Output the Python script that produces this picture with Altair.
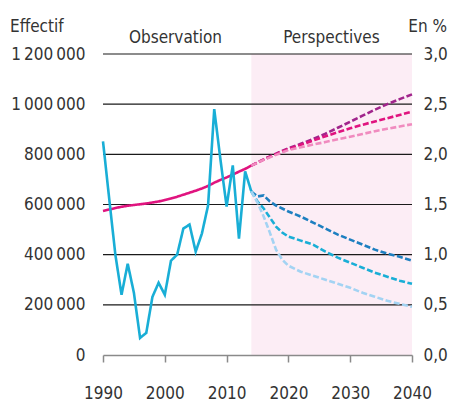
import altair as alt
import pandas as pd

FONT = "DejaVu Sans Condensed, Liberation Sans Narrow, sans-serif"
TXT = "#333333"
FS = 17

# ---- data -------------------------------------------------------------
obs_years = list(range(1990, 2015))
effectif_obs = [574000, 580000, 586000, 591000, 595000, 598000, 601000, 604000,
                608000, 612000, 618000, 624000, 631000, 639000, 647000, 655000,
                664000, 674000, 687000, 698000, 708000, 719000, 731000, 742000,
                755000]
taux_obs = [2.13, 1.56, 1.00, 0.60, 0.91, 0.62, 0.17, 0.22, 0.58, 0.72, 0.60,
            0.94, 1.00, 1.26, 1.30, 1.03, 1.21, 1.49, 2.45, 1.95, 1.48, 1.89,
            1.16, 1.83, 1.63]

eff_proj_years = [2014, 2016, 2018, 2020, 2022, 2024, 2026, 2028, 2030, 2032,
                  2034, 2036, 2038, 2040]
eff_haut = [755000, 780000, 803000, 824000, 842000, 861000, 882000, 906000,
            930000, 954000, 978000, 1000000, 1020000, 1039000]
eff_central = [755000, 779000, 801000, 821000, 838000, 855000, 872000, 888000,
               904000, 918000, 931000, 944000, 957000, 970000]
eff_bas = [755000, 778000, 798000, 817000, 828000, 839000, 849000, 860000,
           870000, 881000, 892000, 902000, 911000, 920000]

taux_proj_years = [2014, 2015, 2016, 2017, 2018, 2019, 2020, 2022, 2024, 2026,
                   2028, 2030, 2032, 2034, 2036, 2038, 2040]
taux_haut = [1.63, 1.58, 1.59, 1.53, 1.49, 1.46, 1.43, 1.38, 1.32, 1.26, 1.20,
             1.15, 1.10, 1.05, 1.01, 0.98, 0.94]
taux_central = [1.63, 1.53, 1.46, 1.37, 1.28, 1.22, 1.18, 1.14, 1.10, 1.03,
                0.97, 0.92, 0.87, 0.82, 0.78, 0.74, 0.71]
taux_bas = [1.63, 1.52, 1.38, 1.22, 1.05, 0.95, 0.89, 0.83, 0.79, 0.75, 0.71,
            0.67, 0.62, 0.58, 0.54, 0.51, 0.48]

x_ticks = [1990, 2000, 2010, 2020, 2030, 2040]
left_ticks = [0, 200000, 400000, 600000, 800000, 1000000, 1200000]
right_ticks = [0.0, 0.5, 1.0, 1.5, 2.0, 2.5, 3.0]
zone_start, zone_end = 2014, 2040

# ---- frames -----------------------------------------------------------
def frame(years, vals, name):
    return pd.DataFrame({"annee": years, "val": vals, "serie": name})

eff_df = pd.concat([
    frame(obs_years, effectif_obs, "eff_obs"),
    frame(eff_proj_years, eff_haut, "eff_haut"),
    frame(eff_proj_years, eff_central, "eff_central"),
    frame(eff_proj_years, eff_bas, "eff_bas"),
])
taux_df = pd.concat([
    frame(obs_years, taux_obs, "taux_obs"),
    frame(taux_proj_years, taux_haut, "taux_haut"),
    frame(taux_proj_years, taux_central, "taux_central"),
    frame(taux_proj_years, taux_bas, "taux_bas"),
])
zone_df = pd.DataFrame({"x": [zone_start], "x2": [zone_end],
                        "y": [left_ticks[0]], "y2": [left_ticks[-1]]})
grid_df = pd.DataFrame({"v": left_ticks[1:]})

x_scale = alt.Scale(domain=[1990, 2040], nice=False, zero=False)
X = alt.X("annee:Q", scale=x_scale,
          axis=alt.Axis(values=x_ticks, format="d", grid=False, domain=True,
                        domainColor="#8a8a8a", domainWidth=1.5,
                        tickColor="#8a8a8a", tickWidth=1.5, tickSize=7,
                        labelPadding=23, labelFontSize=FS, labelFont=FONT,
                        labelOverlap=False, labelFlush=False, labelColor=TXT,
                        title=None, zindex=1))

yl_scale = alt.Scale(domain=[0, 1200000], nice=False)
yr_scale = alt.Scale(domain=[0, 3.0], nice=False)

zone = alt.Chart(zone_df).mark_rect(color="#fcedf5").encode(
    x=alt.X("x:Q", scale=x_scale),
    x2="x2:Q",
    y=alt.Y("y:Q", scale=yl_scale,
            axis=alt.Axis(values=left_ticks, grid=False, domain=False, ticks=False,
                          labelExpr="replace(replace(format(datum.value, ','), ',', '\u2009'), ',', '\u2009')",
                          labelPadding=18, labelFontSize=FS, labelFont=FONT,
                          labelOverlap=False, labelFlush=False, labelColor=TXT,
                          title=None)),
    y2="y2:Q",
)

grid = alt.Chart(grid_df).mark_rule(color="#1a1a1a", strokeWidth=1.2).encode(
    y=alt.Y("v:Q", scale=yl_scale)
)

eff_lines = alt.Chart(eff_df).mark_line(strokeWidth=2.6).encode(
    x=X,
    y=alt.Y("val:Q", scale=yl_scale),
    color=alt.Color("serie:N", legend=None, scale=alt.Scale(
        domain=["eff_obs", "eff_haut", "eff_central", "eff_bas"],
        range=["#e0147f", "#a1258c", "#e0147f", "#f08bbf"])),
    strokeDash=alt.StrokeDash("serie:N", legend=None, scale=alt.Scale(
        domain=["eff_obs", "eff_haut", "eff_central", "eff_bas"],
        range=[[1, 0], [6, 2.5], [6, 2.5], [6, 2.5]])),
    detail="serie:N",
)

def label(txt, px, py, align="left"):
    return alt.Chart(alt.Data(values=[{}])).mark_text(
        text=txt, font=FONT, fontSize=FS, color=TXT, align=align,
        baseline="alphabetic").encode(x=alt.value(px), y=alt.value(py))

texts = alt.layer(
    label("Effectif", -93, -22),
    label("En %", 344, -22, "right"),
    label("Observation", 72.5, -11, "center"),
    label("Perspectives", 228.5, -11, "center"),
)

left = alt.layer(zone, grid, eff_lines, texts)

taux_lines = alt.Chart(taux_df).mark_line(strokeWidth=2.6).encode(
    x=X,
    y=alt.Y("val:Q", scale=yr_scale,
            axis=alt.Axis(orient="right", values=right_ticks, grid=False,
                          domain=False, ticks=False,
                          labelExpr="replace(format(datum.value, '.1f'), '.', ',')",
                          labelPadding=11, labelFontSize=FS, labelFont=FONT,
                          labelOverlap=False, labelFlush=False, labelColor=TXT,
                          title=None)),
    color=alt.Color("serie:N", legend=None, scale=alt.Scale(
        domain=["taux_obs", "taux_haut", "taux_central", "taux_bas"],
        range=["#19aed6", "#1d7fc0", "#19aed6", "#a3d3f3"])),
    strokeDash=alt.StrokeDash("serie:N", legend=None, scale=alt.Scale(
        domain=["taux_obs", "taux_haut", "taux_central", "taux_bas"],
        range=[[1, 0], [6, 2.5], [6, 2.5], [6, 2.5]])),
    detail="serie:N",
)

chart = alt.layer(left, taux_lines).resolve_scale(
    y="independent", color="independent", strokeDash="independent"
).properties(
    width=309, height=301,
    autosize=alt.AutoSizeParams(type="none"),
    padding={"left": 95, "top": 46, "right": 37, "bottom": 46},
    background="white",
).configure_view(stroke=None)

chart.save("out.html", embed_options={"renderer": "svg", "actions": False})
